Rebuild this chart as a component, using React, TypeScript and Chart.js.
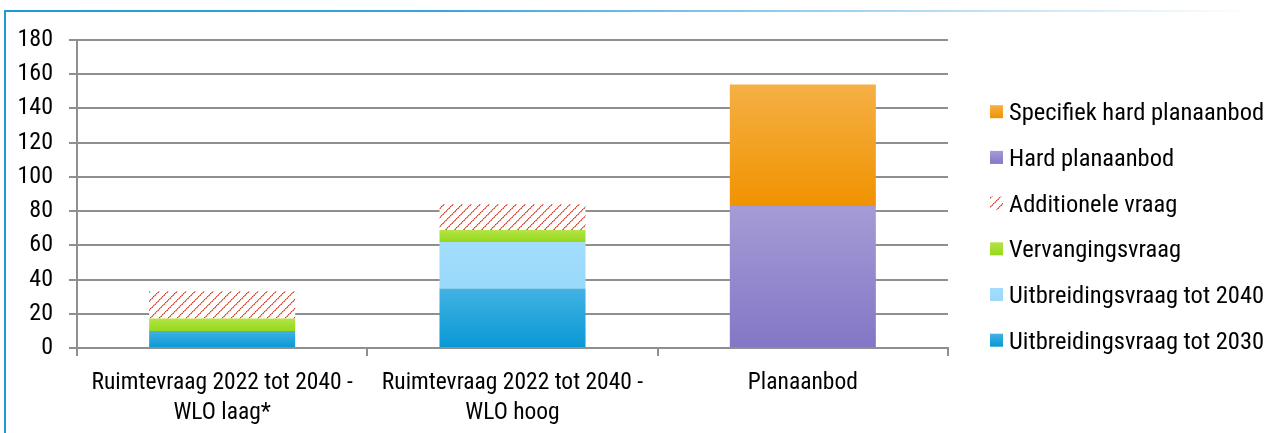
import React, { useEffect, useRef } from 'react';
import { Chart, registerables } from 'chart.js';

Chart.register(...registerables);

// ---- data ----
const categories: (string | string[])[] = [
  ['Ruimtevraag 2022 tot 2040 -', 'WLO laag*'],
  ['Ruimtevraag 2022 tot 2040 -', 'WLO hoog'],
  'Planaanbod',
];
const seriesNames = [
  'Uitbreidingsvraag tot 2030',
  'Uitbreidingsvraag tot 2040',
  'Vervangingsvraag',
  'Additionele vraag',
  'Hard planaanbod',
  'Specifiek hard planaanbod',
];
const uitbreiding2030 = [10.0, 34.7, 0];
const uitbreiding2040 = [0, 27.3, 0];
const vervanging = [7.3, 6.9, 0];
const additioneel = [15.9, 15.2, 0];
const hardPlan = [0, 0, 83];
const specifiekPlan = [0, 0, 71];
const seriesValues = [uitbreiding2030, uitbreiding2040, vervanging, additioneel, hardPlan, specifiekPlan];
const topColors = ['#42b2e2', '#a2ddfc', '#b4e448', null, '#a59cd6', '#f5b045'];
const bottomColors = ['#0898d6', '#9ad9fb', '#96d81a', null, '#8476c6', '#f09300'];

const FONT = "'Roboto Condensed', 'Open Sans', sans-serif";

function makeHatch(): CanvasPattern | string {
  const c = document.createElement('canvas');
  c.width = 9;
  c.height = 9;
  const x = c.getContext('2d');
  if (!x) return '#e06050';
  x.fillStyle = '#ffffff';
  x.fillRect(0, 0, 9, 9);
  for (let k = 0; k < 9; k++) {
    x.fillStyle = k % 3 === 0 ? '#d4402c' : '#e8826f';
    x.fillRect(k, 8 - k, 1, 1);
    x.fillStyle = k % 3 === 1 ? '#dc5a46' : '#f3b3a8';
    x.fillRect((k + 1) % 9, 8 - k, 1, 1);
  }
  const p = x.createPattern(c, 'repeat');
  return p || '#e06050';
}

export default function App() {
  const ref = useRef<HTMLCanvasElement | null>(null);

  useEffect(() => {
    if (!ref.current) return;
    const hatch = makeHatch();

    const bg = (si: number) => (c: any) => {
      const top = topColors[si];
      const bot = bottomColors[si];
      if (top === null) return hatch;
      if (c.type !== 'data') return bot;
      const chart = c.chart;
      const ys = chart.scales && chart.scales.y;
      if (!chart.chartArea || !ys) return bot;
      const di = c.dataIndex;
      let base = 0;
      for (let k = 0; k < si; k++) base += seriesValues[k][di] || 0;
      const v = seriesValues[si][di] || 0;
      const y0 = ys.getPixelForValue(base + v);
      const y1 = ys.getPixelForValue(base);
      if (!isFinite(y0) || !isFinite(y1) || y1 - y0 < 1) return bot;
      const g = chart.ctx.createLinearGradient(0, y0, 0, y1);
      g.addColorStop(0, top);
      g.addColorStop(1, bot);
      return g;
    };

    const legendPlugin = {
      id: 'sideLegend',
      afterDraw(chart: any) {
        const ctx = chart.ctx;
        const ds = chart.data.datasets;
        const n = ds.length;
        ctx.save();
        ctx.font = `24.5px ${FONT}`;
        ctx.textBaseline = 'middle';
        ctx.textAlign = 'left';
        for (let i = 0; i < n; i++) {
          const si = n - 1 - i;
          const cy = 111.7 + i * 45.7;
          const top = topColors[si];
          const bot = bottomColors[si];
          if (top === null) {
            ctx.fillStyle = hatch;
          } else {
            const g = ctx.createLinearGradient(0, cy - 6.5, 0, cy + 6.5);
            g.addColorStop(0, top);
            g.addColorStop(1, bot);
            ctx.fillStyle = g;
          }
          ctx.fillRect(990, cy - 6.5, 13, 13);
          ctx.fillStyle = '#000';
          ctx.fillText(ds[si].label, 1009, cy + 2.5);
        }
        ctx.restore();
      },
    };

    const chart = new Chart(ref.current, {
      type: 'bar',
      data: {
        labels: categories,
        datasets: seriesNames.map((name, si) => ({
          label: name,
          data: seriesValues[si],
          backgroundColor: bg(si),
          borderWidth: 0,
          categoryPercentage: 1,
          barPercentage: 0.503,
        })),
      },
      options: {
        animation: false,
        responsive: false,
        devicePixelRatio: 1,
        layout: { padding: { top: 40, right: 330, left: 0, bottom: 0 } },
        plugins: { legend: { display: false }, tooltip: { enabled: false } },
        scales: {
          x: {
            stacked: true,
            afterFit: (s: any) => { s.height = 85; },
            grid: {
              drawOnChartArea: false,
              drawTicks: true,
              tickLength: 8,
              offset: true,
              color: '#8f8f8f',
              lineWidth: 2,
            },
            border: { color: '#8f8f8f', width: 2 },
            ticks: {
              color: '#000',
              padding: 12,
              maxRotation: 0,
              autoSkip: false,
              font: { family: FONT, size: 23.5, lineHeight: 30.4 / 23.5 },
            },
          },
          y: {
            stacked: true,
            min: 0,
            max: 180,
            afterFit: (s: any) => { s.width = 77; },
            grid: { color: '#8f8f8f', lineWidth: 2, tickLength: 8 },
            border: { color: '#8f8f8f', width: 2 },
            ticks: {
              stepSize: 20,
              color: '#000',
              padding: 16,
              font: { family: FONT, size: 24 },
            },
          },
        },
      },
      plugins: [legendPlugin],
    });
    return () => chart.destroy();
  }, []);

  return (
    <div style={{ position: 'absolute', left: 0, top: 0, width: 1278, height: 433, background: '#fff', overflow: 'hidden' }}>
      <div style={{ position: 'absolute', left: 4, top: 10, width: 2, height: 423, background: '#1e9ad6' }} />
      <div
        style={{
          position: 'absolute',
          left: 4,
          top: 10,
          width: 1250,
          height: 2,
          background: 'linear-gradient(to right, #1e9ad6 0%, #3aa6dc 35%, #8cc8ec 60%, #d4eaf7 85%, rgba(255,255,255,0) 100%)',
        }}
      />
      <canvas ref={ref} width={1278} height={433} style={{ position: 'absolute', left: 0, top: 0, width: 1278, height: 433 }} />
    </div>
  );
}
